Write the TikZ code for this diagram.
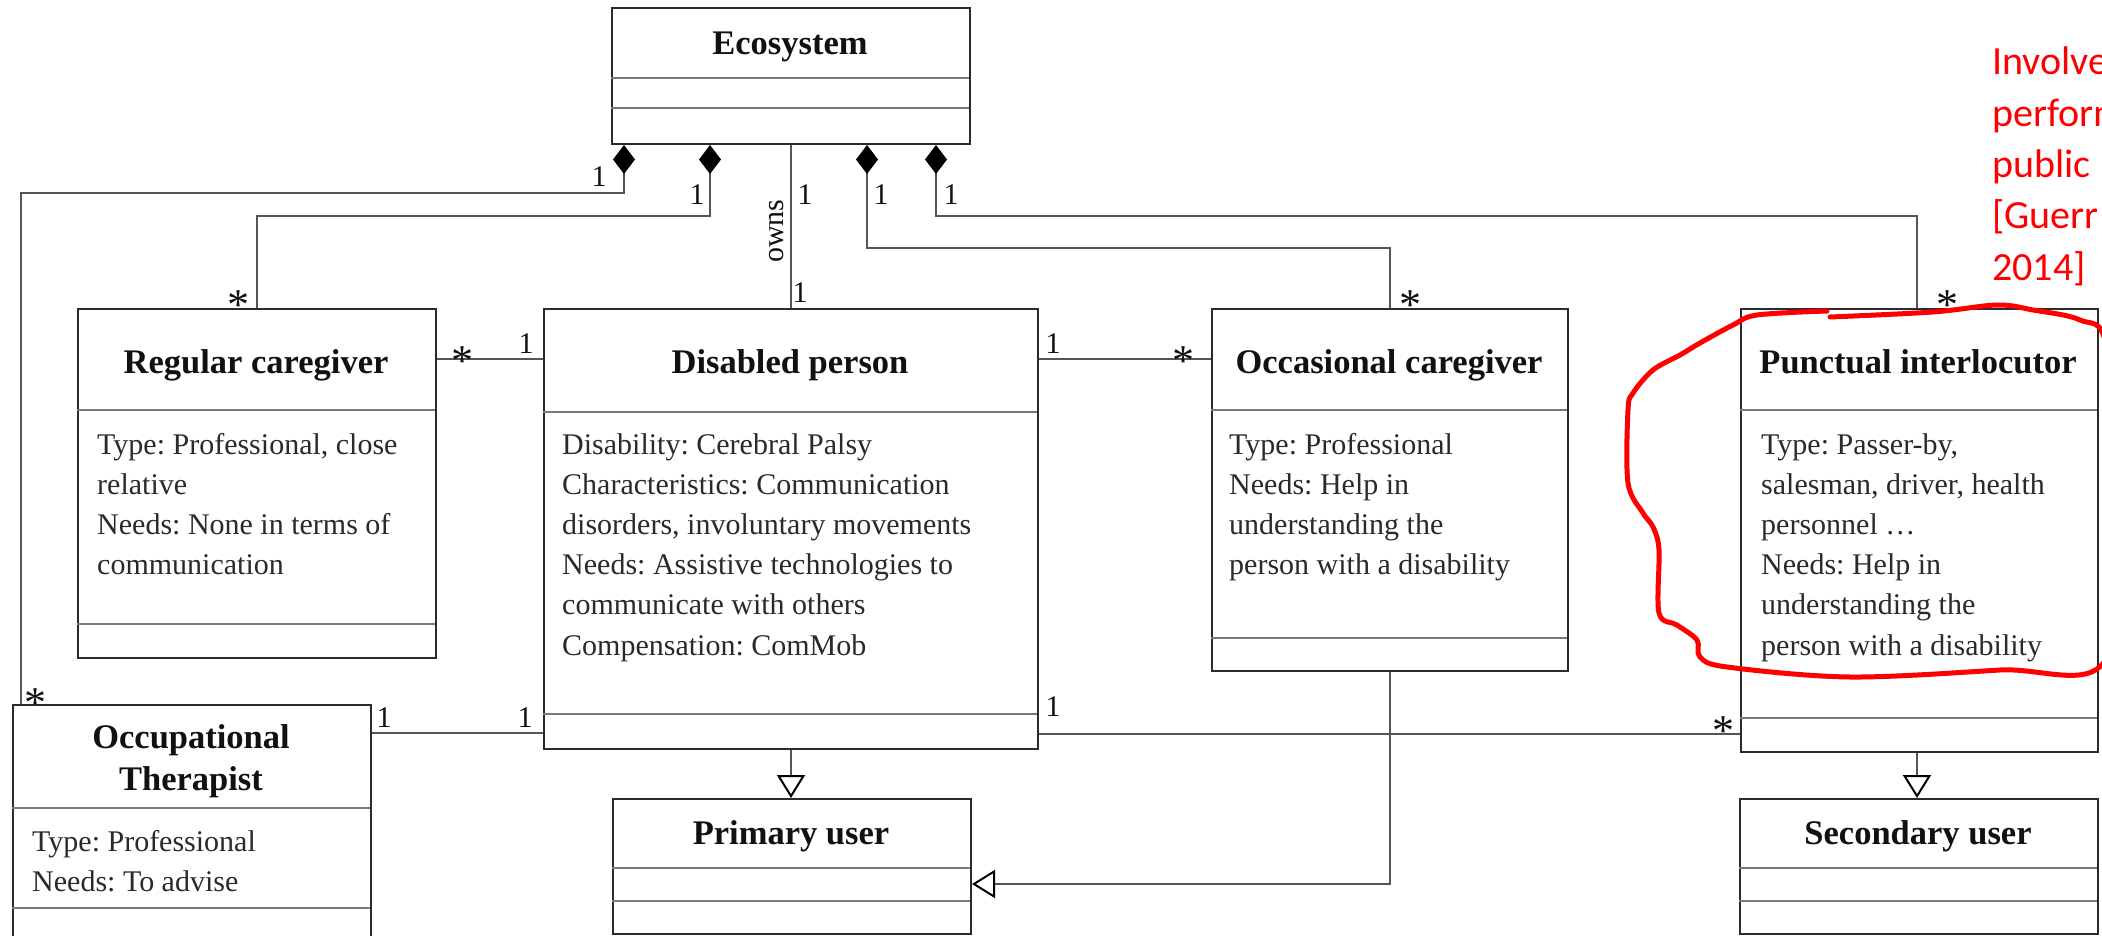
\documentclass[tikz,border=0pt]{standalone}
\usepackage{fontspec}
\setmainfont{Liberation Serif}
\newfontfamily\notefont{Carlito}
\usetikzlibrary{arrows.meta}
\frenchspacing
\definecolor{boxline}{HTML}{2B2B2B}
\definecolor{sepgray}{HTML}{7A7A7A}
\definecolor{wirecol}{HTML}{555555}
\definecolor{inkred}{HTML}{FF0000}
\definecolor{ink}{HTML}{111111}
\definecolor{bodyink}{HTML}{2A2A2A}

% class box: name, x1, y1, x2, y2, first and second compartment separators
\newcommand\umlclass[7]{%
  \node[classbox,minimum width={#4-#2},minimum height={#5-#3}] (#1) at (#2,#3) {};
  \draw[sepline] (#2,#6) -- (#4,#6);
  \draw[sepline] (#2,#7) -- (#4,#7);}
% attribute lines: name prefix, left x, first baseline, list of lines
\newcommand\attrlines[4]{%
  \foreach \txt [count=\i] in {#4}
    \node[attr] (#1-\i) at (#2,{#3+(\i-1)*40.2}) {\txt};}

\begin{document}
\begin{tikzpicture}[x=1pt,y=-1pt,
  classbox/.style={draw=boxline,line width=2pt,fill=white,inner sep=0pt,anchor=north west},
  sepline/.style={draw=sepgray,line width=2pt},
  classname/.style={font=\fontsize{34.5}{40}\selectfont\bfseries,text=ink,inner sep=0pt,anchor=base},
  attr/.style={font=\fontsize{30}{40}\selectfont,text=bodyink,inner sep=0pt,anchor=base west},
  mult/.style={font=\fontsize{30}{36}\selectfont,text=ink,inner sep=0pt,anchor=base},
  many/.style={mult,font=\fontsize{44}{44}\selectfont},
  wire/.style={draw=wirecol,line width=1.6pt},
  composite/.style={wire,{Diamond[length=29pt,width=22pt,color=black]}-},
  generalize/.style={wire,-{Triangle[open,length=23pt,width=28pt,line width=2pt,color=black]}},
  note/.style={font=\notefont\fontsize{40}{52}\selectfont,text=inkred,inner sep=0pt,anchor=base west},
  redloop/.style={draw=inkred,line width=5pt,line cap=round,line join=round},
]
\fill[white] (0,0) rectangle (2102,936);
\useasboundingbox (0,0) rectangle (2102,936);
\clip (0,0) rectangle (2102,936);

% classes
\umlclass{eco}{611}{7}{969}{143}{78}{108}
\umlclass{rc}{77}{308}{435}{657}{410}{624}
\umlclass{dp}{543}{308}{1037}{748}{412}{714}
\umlclass{oc}{1211}{308}{1567}{670}{410}{638}
\umlclass{pi}{1740}{308}{2097}{751}{410}{718}
\umlclass{ot}{12}{704}{370}{960}{808}{908}
\umlclass{pu}{612}{798}{970}{933}{868}{901}
\umlclass{su}{1739}{798}{2097}{933}{868}{901}

% class names
\node[classname] (eco-t) at (790,55) {Ecosystem};
\node[classname] (rc-t) at (256,373) {Regular caregiver};
\node[classname] (dp-t) at (790,373) {Disabled person};
\node[classname] (oc-t) at (1389,373) {Occasional caregiver};
\node[classname] (pi-t) at (1918,373) {Punctual interlocutor};
\node[classname] (ot-t1) at (191,748) {Occupational};
\node[classname] (ot-t2) at (191,790) {Therapist};
\node[classname] (pu-t) at (791,844) {Primary user};
\node[classname] (su-t) at (1918,844) {Secondary user};

% attributes
\attrlines{rc-a}{97}{454}{{Type: Professional, close},{relative},{Needs: None in terms of},{communication}}
\attrlines{dp-a}{562}{454}{{Disability: Cerebral Palsy},{Characteristics: Communication},{disorders, involuntary movements},{Needs: Assistive technologies to},{communicate with others},{Compensation: ComMob}}
\attrlines{oc-a}{1229}{454}{{Type: Professional},{Needs: Help in},{understanding the},{person with a disability}}
\attrlines{pi-a}{1761}{454}{{Type: Passer-by,},{salesman, driver, health},{personnel \ldots},{Needs: Help in},{understanding the},{person with a disability}}
\attrlines{ot-a}{32}{851}{{Type: Professional},{Needs: To advise}}

% compositions from the ecosystem
\draw[composite] (eco.south -| 624,0) -- (624,193) -| (ot.north -| 21,0);
\draw[composite] (eco.south -| 710,0) -- (710,216) -| (rc.north);
\draw[wire] (eco.south) -- (dp.north);
\draw[composite] (eco.south -| 867,0) -- (867,248) -| (oc.north);
\draw[composite] (eco.south -| 936,0) -- (936,216) -| (pi.north -| 1917,0);

% associations
\draw[wire] (rc.east |- 0,359) -- (dp.west |- 0,359);
\draw[wire] (dp.east |- 0,359) -- (oc.west |- 0,359);
\draw[wire] (ot.east |- 0,733) -- (dp.west |- 0,733);
\draw[wire] (dp.east |- 0,734) -- (pi.west |- 0,734);

% generalizations
\draw[generalize] (dp.south) -- (dp.south |- pu.north);
\draw[generalize] (oc.south) |- (pu.east |- 0,884);
\draw[generalize] (pi.south -| 1917,0) -- (su.north -| 1917,0);

% multiplicities and role
\node[mult] (m1) at (599,187) {1};
\node[many] (m2) at (35,717) {*};
\node[mult] (m3) at (697,205) {1};
\node[many] (m4) at (238,319) {*};
\node[mult] (m5) at (805,205) {1};
\node[mult,rotate=90,anchor=center] (owns) at (777,231) {owns};
\node[mult] (m6) at (800,302) {1};
\node[mult] (m7) at (881,205) {1};
\node[many] (m8) at (1410,319) {*};
\node[mult] (m9) at (951,205) {1};
\node[many] (m10) at (1947,319) {*};
\node[many] (m11) at (462,375) {*};
\node[mult] (m12) at (526,353) {1};
\node[mult] (m13) at (1053,353) {1};
\node[many] (m14) at (1183,375) {*};
\node[mult] (m15) at (384,727) {1};
\node[mult] (m16) at (525,727) {1};
\node[mult] (m17) at (1053,716) {1};
\node[many] (m18) at (1723,745) {*};

% handwritten annotation
\foreach \txt [count=\i] in {Involve,perform,public,[Guerr,2014]}
  \node[note] (note-\i) at (1992,{75+(\i-1)*51.3}) {\txt};
\draw[redloop] plot[smooth,tension=0.55] coordinates {
  (1830,317) (1933,312) (1997,305) (2033,310) (2080,320) (2106,345)
  (2116,500) (2104,662) (2000,670) (1850,677) (1727,667) (1700,657)
  (1697,640) (1677,625) (1659,613) (1659,550) (1653,527) (1643,513)
  (1628,483) (1628,410) (1633,393) (1653,370) (1680,355) (1700,343)
  (1733,325) (1757,315) (1827,311)};
\end{tikzpicture}
\end{document}
